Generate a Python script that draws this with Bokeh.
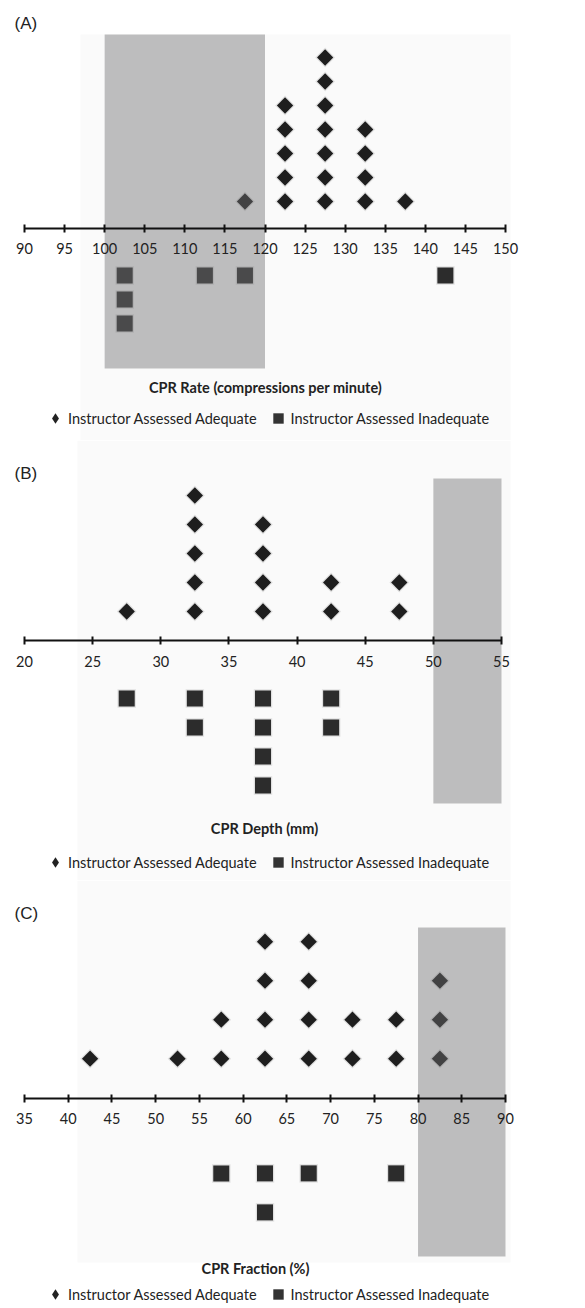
import math
from bokeh.plotting import figure
from bokeh.layouts import column
from bokeh.models import Legend, LegendItem, FixedTicker, Label, LinearAxis
from bokeh.embed import file_html
from bokeh.resources import INLINE

# ---------------- data ----------------
rate_bins = [102.5, 112.5, 117.5, 122.5, 127.5, 132.5, 137.5, 142.5]
rate_adequate = [0, 0, 1, 5, 7, 4, 1, 0]
rate_inadequate = [3, 1, 1, 0, 0, 0, 0, 1]
rate_ticks = [90, 95, 100, 105, 110, 115, 120, 125, 130, 135, 140, 145, 150]
rate_target = [100, 120]

depth_bins = [27.5, 32.5, 37.5, 42.5, 47.5]
depth_adequate = [1, 5, 4, 2, 2]
depth_inadequate = [1, 2, 4, 2, 0]
depth_ticks = [20, 25, 30, 35, 40, 45, 50, 55]
depth_target = [50, 55]

fraction_bins = [42.5, 52.5, 57.5, 62.5, 67.5, 72.5, 77.5, 82.5]
fraction_adequate = [1, 1, 2, 4, 4, 2, 2, 3]
fraction_inadequate = [0, 0, 1, 2, 1, 0, 1, 0]
fraction_ticks = [35, 40, 45, 50, 55, 60, 65, 70, 75, 80, 85, 90]
fraction_target = [80, 90]

LEGEND_LABELS = ["Instructor Assessed Adequate", "Instructor Assessed Inadequate"]

W = 585
FONT = "Lato"


def make_panel(letter, title, bins, adeq, inadeq, ticks, target, g):
    lo = ticks[0]
    ppu = g["ppu"]

    def xd(X):
        return lo + (X - 24) / ppu

    def yd(Y):
        return (g["axis"] - Y) / g["row"]

    top, h = g["top"], g["h"]
    p = figure(width=W, height=h, x_range=(xd(0), xd(W)),
               y_range=(yd(top + h), yd(top)),
               output_backend="svg", toolbar_location=None,
               x_axis_type=None, y_axis_type=None, min_border=0)
    p.outline_line_color = None
    p.background_fill_color = "white"
    p.border_fill_color = "white"

    # faint panel background
    p.quad(left=xd(g["bg"][0]), right=xd(g["bg"][1]),
           top=yd(g["bg"][2]), bottom=yd(g["bg"][3]),
           fill_color="#fafafa", line_color=None)

    xs_d, ys_d, xs_s, ys_s = [], [], [], []
    for b, c in zip(bins, adeq):
        for k in range(1, c + 1):
            xs_d.append(b)
            ys_d.append(k + g["doff"])
    for b, c in zip(bins, inadeq):
        for k in range(1, c + 1):
            xs_s.append(b)
            ys_s.append(-(k + g["soff"]))

    # legend-key renderers (hidden beneath the real points)
    r_leg_d = p.scatter(xs_d, ys_d, marker="diamond", size=10,
                        fill_color="#222222", line_color=None)
    r_leg_s = p.scatter(xs_s, ys_s, marker="square", size=10,
                        fill_color="#333333", line_color=None)

    # soft shadows
    p.scatter(xs_d, ys_d, marker="square", angle=math.pi / 4, size=14,
              fill_color="black", fill_alpha=0.10, line_color=None)
    p.scatter(xs_s, ys_s, marker="square", size=18.5,
              fill_color="black", fill_alpha=0.10, line_color=None)
    p.scatter(xs_d, ys_d, marker="square", angle=math.pi / 4, size=11.5,
              fill_color="#1e1e1e", line_color=None)
    p.scatter(xs_s, ys_s, marker="square", size=16,
              fill_color="#2c2c2c", line_color=None)

    # guideline target range (semi-transparent over the points)
    p.quad(left=target[0], right=target[1],
           top=yd(g["shade"][0]), bottom=yd(g["shade"][1]),
           fill_color="#717173", fill_alpha=0.445, line_color=None)

    # axis through zero
    ax = LinearAxis(fixed_location=0, bounds=(ticks[0], ticks[-1]),
                    ticker=FixedTicker(ticks=ticks))
    ax.axis_line_width = 2
    ax.axis_line_color = "#111111"
    ax.major_tick_line_color = "#111111"
    ax.major_tick_line_width = 2
    ax.major_tick_in = 4
    ax.major_tick_out = 4
    ax.minor_tick_line_color = None
    ax.major_label_standoff = g["standoff"]
    ax.major_label_text_font = FONT
    ax.major_label_text_font_size = "14.5px"
    ax.major_label_text_color = "#222222"
    p.add_layout(ax, "below")

    legend = Legend(items=[LegendItem(label=LEGEND_LABELS[0], renderers=[r_leg_d]),
                           LegendItem(label=LEGEND_LABELS[1], renderers=[r_leg_s])],
                    orientation="horizontal",
                    location=(42, top + h - (g["legend"] + 13)),
                    glyph_width=26, glyph_height=26, label_standoff=0, spacing=8,
                    padding=0, margin=0, border_line_color=None,
                    background_fill_alpha=0,
                    label_text_font=FONT, label_text_font_size="14.5px",
                    label_text_color="#222222")
    p.add_layout(legend)

    p.add_layout(Label(x=xd(14), y=yd(g["letter"]), text=letter,
                       text_font="Liberation Sans", text_font_size="17px",
                       text_color="#222222", text_baseline="middle"))
    p.add_layout(Label(x=xd(g["title_cx"]), y=yd(g["title"]), text=title,
                       text_font=FONT, text_font_size="14.5px", text_font_style="bold",
                       text_color="#222222", text_align="center", text_baseline="middle"))
    return p


gA = dict(ppu=481 / 60, axis=228, row=24, doff=0.125, soff=0.958, top=0, h=440,
          shade=(34, 368), bg=(80, 510, 34, 440), letter=23, title=387, title_cx=265,
          legend=418, standoff=10)
gB = dict(ppu=477 / 35, axis=640, row=29, doff=0.0, soff=1.0, top=440, h=440,
          shade=(478, 803), bg=(77, 510, 440, 880), letter=473, title=828, title_cx=264,
          legend=862, standoff=11)
gC = dict(ppu=481 / 55, axis=1098, row=39, doff=0.02, soff=0.92, top=880, h=428,
          shade=(927, 1256), bg=(77, 510, 880, 1262), letter=913, title=1268, title_cx=255,
          legend=1294, standoff=10)

pA = make_panel("(A)", "CPR Rate (compressions per minute)", rate_bins, rate_adequate,
                rate_inadequate, rate_ticks, rate_target, gA)
pB = make_panel("(B)", "CPR Depth (mm)", depth_bins, depth_adequate, depth_inadequate,
                depth_ticks, depth_target, gB)
pC = make_panel("(C)", "CPR Fraction (%)", fraction_bins, fraction_adequate,
                fraction_inadequate, fraction_ticks, fraction_target, gC)

layout = column(pA, pB, pC, spacing=0)
open("out.html", "w").write(file_html(layout, INLINE))
